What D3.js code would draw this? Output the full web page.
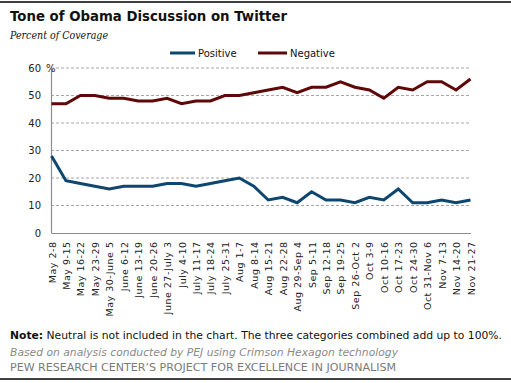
<!DOCTYPE html>
<html>
<head>
<meta charset="utf-8">
<script src="https://cdn.jsdelivr.net/npm/d3@7"></script>
<style>
  html, body { margin: 0; padding: 0; background: #fff; }
  svg { display: block; }
</style>
</head>
<body>
<svg id="chart" width="511" height="383"></svg>
<script>
const categories = ["May 2-8","May 9-15","May 16-22","May 23-29","May 30-June 5","June 6-12","June 13-19","June 20-26","June 27-July 3","July 4-10","July 11-17","July 18-24","July 25-31","Aug 1-7","Aug 8-14","Aug 15-21","Aug 22-28","Aug 29-Sep 4","Sep 5-11","Sep 12-18","Sep 19-25","Sep 26-Oct 2","Oct 3-9","Oct 10-16","Oct 17-23","Oct 24-30","Oct 31-Nov 6","Nov 7-13","Nov 14-20","Nov 21-27"];
const positive = [28,19,18,17,16,17,17,17,18,18,17,18,19,20,17,12,13,11,15,12,12,11,13,12,16,11,11,12,11,12];
const negative = [47,47,50,50,49,49,48,48,49,47,48,48,50,50,51,52,53,51,53,53,55,53,52,49,53,52,55,55,52,56];
const yTicks = [0,10,20,30,40,50,60];
const seriesNames = ["Positive","Negative"];
const seriesColors = ["#0d466e","#5e0808"];

const svg = d3.select("#chart");
const font = "Verdana, 'DejaVu Sans', sans-serif";

// rules
svg.append("line").attr("x1",0).attr("x2",511).attr("y1",2).attr("y2",2).attr("stroke","#000").attr("stroke-width",1.5);
svg.append("line").attr("x1",0).attr("x2",511).attr("y1",379).attr("y2",379).attr("stroke","#000").attr("stroke-width",1.5);

// title
svg.append("text").attr("x",10).attr("y",21).text("Tone of Obama Discussion on Twitter")
  .attr("font-family",font).attr("font-weight","bold").attr("font-size",13.5).attr("fill","#111")
  .attr("textLength",277).attr("lengthAdjust","spacingAndGlyphs");
svg.append("text").attr("x",10).attr("y",39).text("Percent of Coverage")
  .attr("font-family","Georgia, 'DejaVu Serif', serif").attr("font-style","italic").attr("font-size",11).attr("fill","#111")
  .attr("textLength",98).attr("lengthAdjust","spacingAndGlyphs");

const x = d3.scalePoint().domain(categories).range([51.5, 470.5]);
const y = d3.scaleLinear().domain([0,60]).range([233, 68]);

// gridlines
svg.append("g").selectAll("line").data(yTicks.filter(d => d > 0)).join("line")
  .attr("x1",51).attr("x2",470).attr("y1",d=>y(d)).attr("y2",d=>y(d))
  .attr("stroke","#a6a6a6").attr("stroke-width",1).attr("stroke-dasharray","3,2");

// y axis
const yAxis = svg.append("g").attr("transform","translate(51,0)")
  .call(d3.axisLeft(y).tickValues(yTicks).tickSize(0).tickPadding(10));
yAxis.select(".domain").attr("stroke","#8c8c8c").attr("stroke-width",1.2);
yAxis.selectAll("text").attr("font-family",font).attr("font-size",10).attr("fill","#222");
svg.append("text").attr("x",46).attr("y",y(60)+3.5).text("%")
  .attr("font-family",font).attr("font-size",10).attr("fill","#222");

// x axis
const xAxis = svg.append("g").attr("transform","translate(0,233)")
  .call(d3.axisBottom(x).tickSize(0).tickPadding(0));
xAxis.select(".domain").attr("stroke","#8c8c8c").attr("stroke-width",1.2);
xAxis.selectAll("text")
  .attr("font-family",font).attr("font-size",9.5).attr("letter-spacing",0.5).attr("fill","#222")
  .attr("text-anchor","end").attr("dy",null).attr("y",0).attr("x",0)
  .attr("transform","translate(3.5,8.5) rotate(-90)");

// lines
const line = d3.line().x((d,i)=>x(categories[i])).y(d=>y(d));
[positive, negative].forEach((s,k) => {
  svg.append("path").datum(s).attr("d",line).attr("fill","none")
    .attr("stroke",seriesColors[k]).attr("stroke-width",3).attr("stroke-linejoin","miter");
});

// legend
const legendX = [170, 258];
const legendLen = [25, 29];
seriesNames.forEach((n,k) => {
  svg.append("line").attr("x1",legendX[k]).attr("x2",legendX[k]+legendLen[k]).attr("y1",53).attr("y2",53)
    .attr("stroke",seriesColors[k]).attr("stroke-width",3);
  svg.append("text").attr("x",legendX[k]+legendLen[k]+3).attr("y",57).text(n)
    .attr("font-family",font).attr("font-size",10).attr("fill","#111");
});

// notes
const note = svg.append("text").attr("x",10).attr("y",339)
  .attr("font-family",font).attr("font-size",10.5).attr("fill","#111")
  .attr("textLength",492).attr("lengthAdjust","spacingAndGlyphs");
note.append("tspan").attr("font-weight","bold").text("Note:");
note.append("tspan").text(" Neutral is not included in the chart. The three categories combined add up to 100%.");
svg.append("text").attr("x",10).attr("y",355.5).text("Based on analysis conducted by PEJ using Crimson Hexagon technology")
  .attr("font-family",font).attr("font-style","italic").attr("font-size",10.5).attr("fill","#8a8a8a")
  .attr("textLength",388).attr("lengthAdjust","spacingAndGlyphs");
svg.append("text").attr("x",10).attr("y",370.5).text("PEW RESEARCH CENTER\u2019S PROJECT FOR EXCELLENCE IN JOURNALISM")
  .attr("font-family",font).attr("font-size",10.5).attr("fill","#7a7a7a")
  .attr("textLength",386).attr("lengthAdjust","spacingAndGlyphs");
</script>
</body>
</html>
